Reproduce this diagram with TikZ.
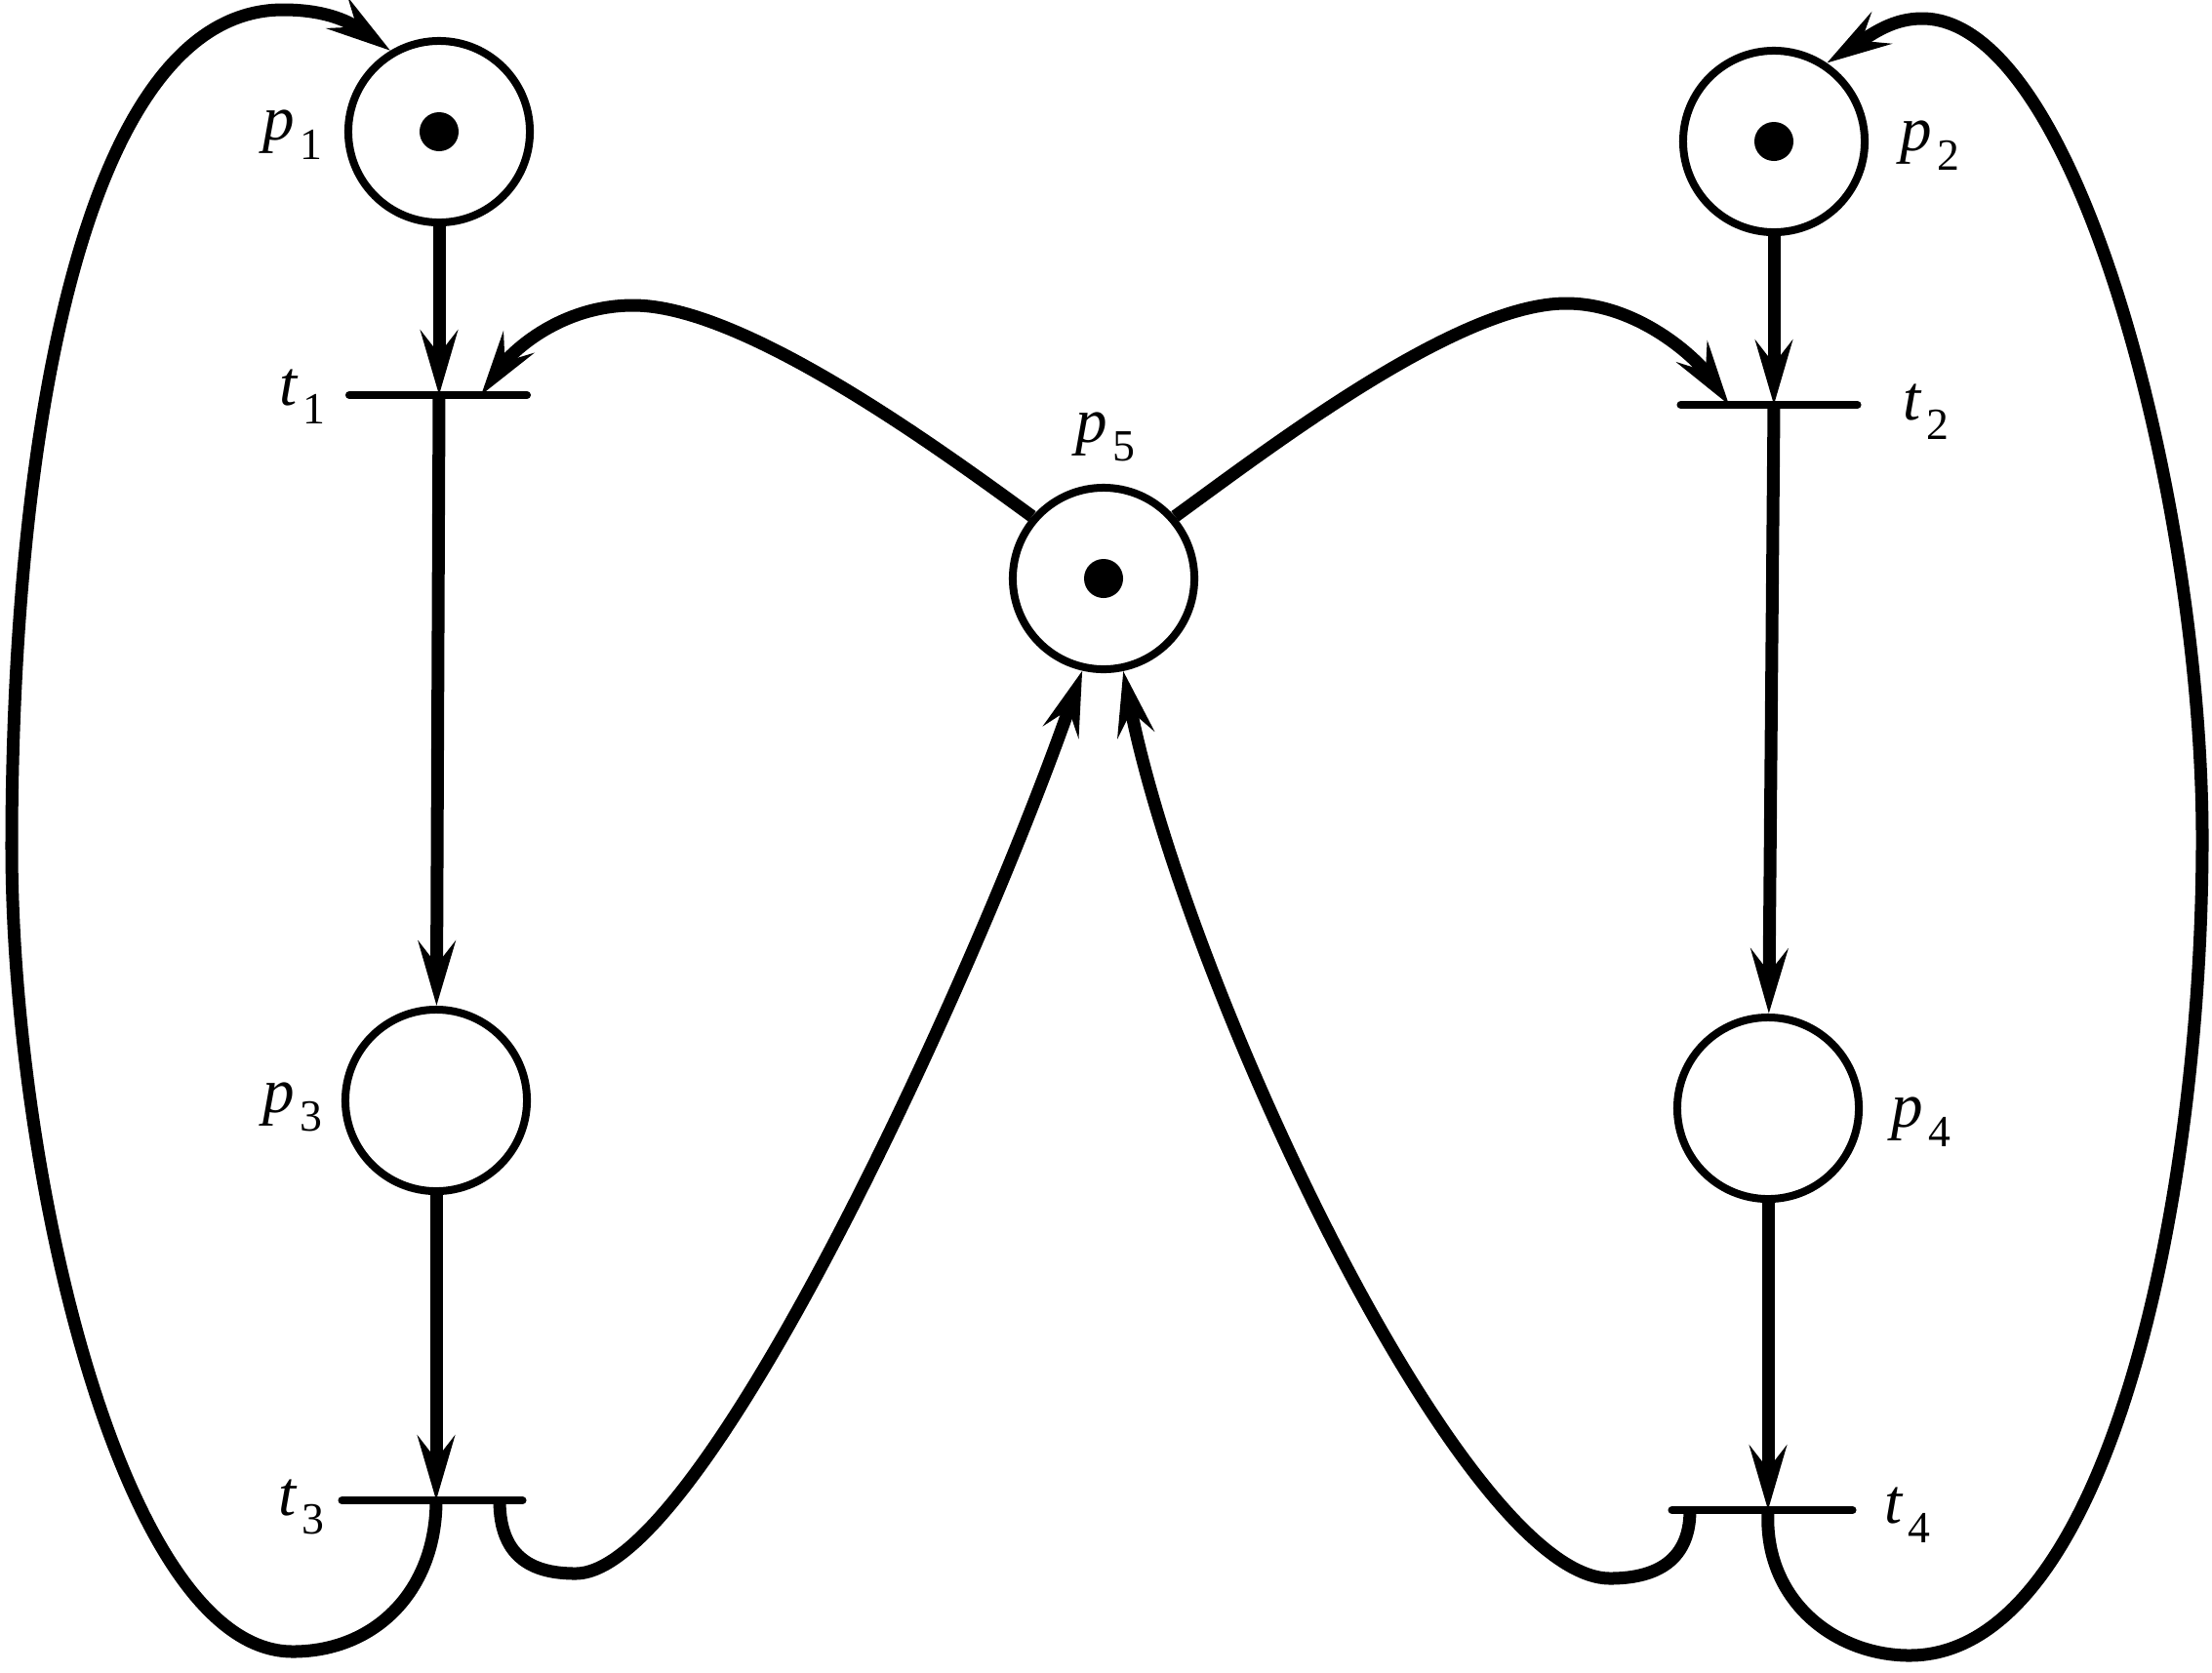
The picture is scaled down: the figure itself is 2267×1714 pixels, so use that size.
\documentclass[tikz,border=0pt]{standalone}
\usepackage{fontspec}
\setmainfont{Liberation Serif}
\usetikzlibrary{arrows.meta}
\newcommand{\pnlab}[2]{\textit{#1}\kern1.5pt\raisebox{-5.5pt}{\fontsize{13}{13}\selectfont #2}}
\tikzset{
  place/.style={circle, draw, line width=0.08cm, minimum size=1.86cm, inner sep=0pt},
  token/.style={circle, fill=black, minimum size=0.4cm, inner sep=0pt},
  tnode/.style={rectangle, inner sep=0pt, outer sep=0pt, minimum height=0pt},
  barline/.style={line width=0.08cm, line cap=round},
  arc/.style={line width=0.13cm, -{Stealth[length=0.66cm, width=0.38cm, inset=0.24cm]}},
  lab/.style={inner sep=0pt, font=\fontsize{18.5}{20}\selectfont}
}
\begin{document}
\begin{tikzpicture}[x=0.01cm, y=-0.01cm]
\useasboundingbox (0,0) rectangle (2267,1714);

% places
\node[place] (p1) at (450,135) {};
\node[place] (p2) at (1818,145) {};
\node[place] (p3) at (447,1128) {};
\node[place] (p4) at (1812,1136) {};
\node[place] (p5) at (1131,593) {};

% tokens
\node[token] (k1) at (p1) {};
\node[token] (k2) at (p2) {};
\node[token] (k5) at (p5) {};

% transitions
\node[tnode, minimum width=1.82cm] (t1) at (449,405) {};
\node[tnode, minimum width=1.81cm] (t2) at (1813,415) {};
\node[tnode, minimum width=1.85cm] (t3) at (443,1538) {};
\node[tnode, minimum width=1.85cm] (t4) at (1806,1548) {};
\draw[barline] (t1.west) -- (t1.east);
\draw[barline] (t2.west) -- (t2.east);
\draw[barline] (t3.west) -- (t3.east);
\draw[barline] (t4.west) -- (t4.east);

% points on the bars
\coordinate (t1in) at (493,405);
\coordinate (t2in) at (1772,415);
\coordinate (t3out) at (512,1538);
\coordinate (t4out) at (1732,1548);

% labels
\node[lab] (lp1) at (300,138) {\pnlab{p}{1}};
\node[lab] (lp2) at (1978,149) {\pnlab{p}{2}};
\node[lab] (lp3) at (300,1135) {\pnlab{p}{3}};
\node[lab] (lp4) at (1969,1150) {\pnlab{p}{4}};
\node[lab] (lp5) at (1133,448) {\pnlab{p}{5}};
\node[lab] (lt1) at (310,407) {\pnlab{t}{1}};
\node[lab] (lt2) at (1974,422) {\pnlab{t}{2}};
\node[lab] (lt3) at (309,1545) {\pnlab{t}{3}};
\node[lab] (lt4) at (1955,1553) {\pnlab{t}{4}};

% straight arcs
\draw[arc] (p1) -- (p1 |- t1.center);
\draw[arc] (p1 |- t1.center) -- (p3);
\draw[arc] (p3) -- (p3 |- t3.center);
\draw[arc] (p2) -- (p2 |- t2.center);
\draw[arc] (p2 |- t2.center) -- (p4);
\draw[arc] (p4) -- (p4 |- t4.center);

% loops back to p1 and p2
\draw[arc] (p3 |- t3.center) .. controls (447,1630) and (385,1693) .. (300,1693)
  .. controls (125,1693) and (12,1200) .. (12,868)
  .. controls (12,450) and (85,10) .. (290,10)
  .. controls (330,10) and (355,20) .. (p1.121);
\draw[arc] (p4 |- t4.center) .. controls (1807,1640) and (1880,1697) .. (1957,1697)
  .. controls (2160,1697) and (2257,1230) .. (2257,860)
  .. controls (2257,520) and (2130,19) .. (1970,19)
  .. controls (1940,19) and (1920,34) .. (p2.56);

% p5 to t1 and t2
\draw[arc] (p5.139) .. controls (956,455) and (760,313) .. (649,313)
  .. controls (575,313) and (525,360) .. (t1in);
\draw[arc] (p5.41) .. controls (1305,456) and (1495,311) .. (1605,311)
  .. controls (1680,311) and (1740,369) .. (t2in);

% t3 and t4 back to p5
\draw[arc] (t3out) .. controls (512,1600) and (550,1613) .. (590,1613)
  .. controls (720,1613) and (1000,1000) .. (p5.257);
\draw[arc] (t4out) .. controls (1732,1605) and (1690,1618) .. (1650,1618)
  .. controls (1500,1618) and (1215,1010) .. (p5.282);
\end{tikzpicture}
\end{document}
